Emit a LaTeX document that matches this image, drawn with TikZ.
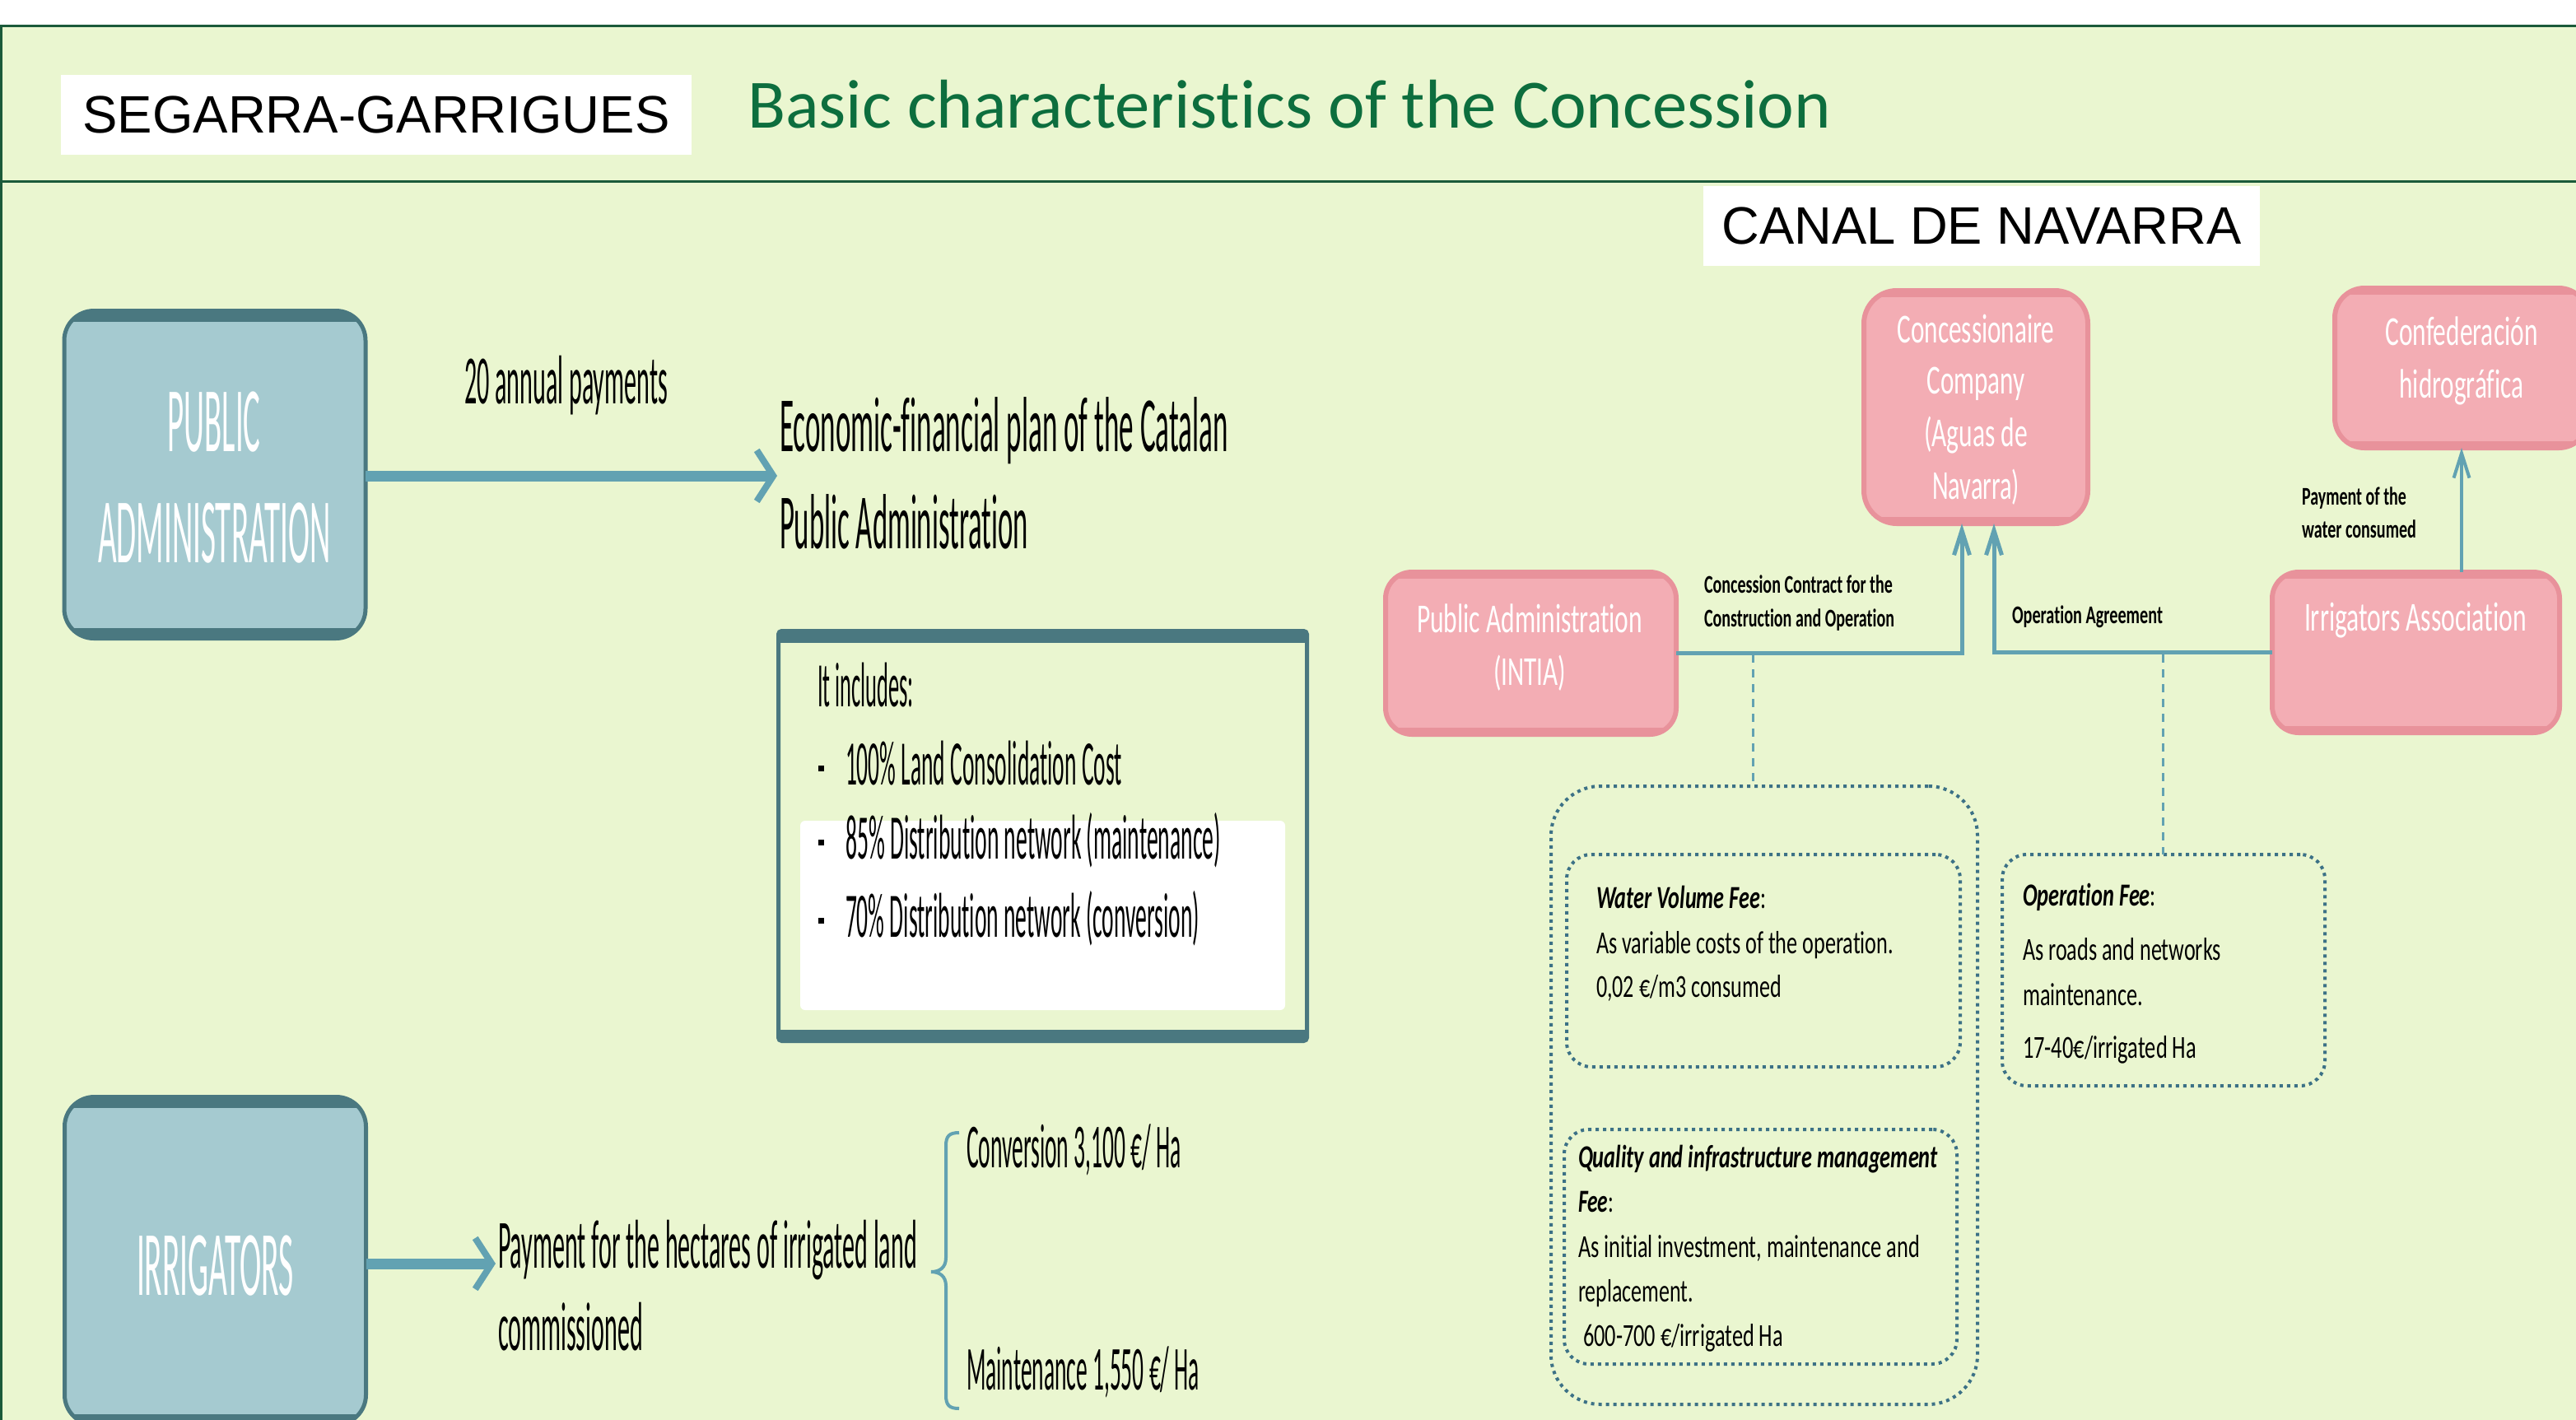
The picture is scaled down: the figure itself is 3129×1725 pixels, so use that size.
\documentclass[tikz,border=0pt]{standalone}
\usepackage{fontspec}
\usepackage{graphicx}
\setmainfont{Carlito}[Ligatures={NoCommon,NoContextual}]
\newfontfamily\arialf{Liberation Sans}
\usetikzlibrary{arrows.meta,calc}
\newlength\pxu \setlength\pxu{0.25pt}
\newcommand\fit[2]{\resizebox{#1\pxu}{\height}{#2}}
\newcommand\sqbullet{\rule[16.5\pxu]{7\pxu}{7\pxu}}
\newcommand\bandsof[4]{%
  \begin{scope}
    \clip[rounded corners=#2] (#1.north west) rectangle (#1.south east);
    \fill[#4] (#1.north west) rectangle ([yshift=-#3]#1.north east);
    \fill[#4] (#1.south west) rectangle ([yshift=#3]#1.south east);
  \end{scope}}
\definecolor{bg}{HTML}{EAF6D0}
\definecolor{framec}{HTML}{1B5A3A}
\definecolor{ttl}{HTML}{0D6E3E}
\definecolor{bfill}{HTML}{A5CAD0}
\definecolor{bdark}{HTML}{4A7880}
\definecolor{connc}{HTML}{62A2B2}
\definecolor{pfill}{HTML}{F3ADB4}
\definecolor{pdark}{HTML}{E8929B}
\definecolor{dotc}{HTML}{3C7186}
\begin{document}
\begin{tikzpicture}[x=0.25pt,y=-0.25pt,
  txt/.style={anchor=base west, inner sep=0pt, outer sep=0pt},
  ctxt/.style={anchor=base, inner sep=0pt, outer sep=0pt},
  bluebox/.style={draw=bdark, fill=bfill, line width=1.25pt, rounded corners=9pt, inner sep=0pt, outer sep=0pt},
  pinkbox/.style={draw=pdark, fill=pfill, line width=1.5pt, rounded corners=9pt, inner sep=0pt, outer sep=0pt},
  dotbox/.style={draw=dotc, line width=1pt, dash pattern=on 1pt off 1.25pt, inner sep=0pt, outer sep=0pt},
  labelbox/.style={fill=white, inner sep=0pt, outer sep=0pt, font=\arialf\fontsize{16pt}{19pt}\selectfont},
  bigarrow/.style={draw=connc, line width=3.25pt, -{Straight Barb[length=5pt,width=15.5pt,line width'=2pt]}},
  link/.style={draw=connc, line width=1.25pt},
  smallarrow/.style={-{Straight Barb[length=7.5pt,width=4.75pt]}},
  dashlink/.style={draw=connc, line width=0.75pt, dash pattern=on 2.5pt off 2pt},
  boxtxt/.style={ctxt, text=white, font=\fontsize{12.5pt}{16pt}\selectfont},
  lbl/.style={txt, font=\bfseries\fontsize{7.75pt}{9pt}\selectfont},
  fee/.style={txt, font=\fontsize{9.75pt}{12pt}\selectfont}]
\useasboundingbox (0,0) rectangle (3129,1725);
\clip (0,0) rectangle (3129,1725);
% background and frame
\fill[white] (0,0) rectangle (3129,31);
\fill[bg] (0,31) rectangle (3129,1725);
\draw[framec, line width=0.75pt] (0,31) -- (3129,31);
\draw[framec, line width=0.75pt] (0,220) -- (3129,220);
\draw[framec, line width=0.75pt] (1,31) -- (1,1725);
% header
\node[labelbox, minimum width=191.5pt, minimum height=24.25pt] (seg) at (457,139.5) {\fit{713}{SEGARRA-GARRIGUES}};
\node[txt, text=ttl, font=\fontsize{21pt}{25pt}\selectfont] (title) at (908,155) {\fit{1316}{Basic characteristics of the Concession}};
\node[labelbox, minimum width=169pt, minimum height=24.25pt] (canal) at (2407,274.5) {\fit{631}{CANAL DE NAVARRA}};

% ===== left part =====
\node[bluebox, minimum width=91.5pt, minimum height=99.5pt] (pubadm) at (261,576.5) {};
\bandsof{pubadm}{9pt}{3.25pt}{bdark}
\node[ctxt, text=white, font=\fontsize{28pt}{33pt}\selectfont] (pa1) at (260,548) {\fit{113}{PUBLIC}};
\node[ctxt, text=white, font=\fontsize{28pt}{33pt}\selectfont] (pa2) at (260.5,683) {\fit{283}{ADMINISTRATION}};

\node[bluebox, minimum width=91.5pt, minimum height=99.5pt] (irrig) at (261.5,1531.5) {};
\bandsof{irrig}{9pt}{3.25pt}{bdark}
\node[ctxt, text=white, font=\fontsize{28pt}{33pt}\selectfont] (irr1) at (261.5,1573) {\fit{191}{IRRIGATORS}};

\node[txt, font=\fontsize{21pt}{25pt}\selectfont] (ann) at (564,490) {\fit{247}{20 annual payments}};
\coordinate (econin) at (944,578);
\draw[bigarrow] (pubadm.east |- econin) -- (econin);
\node[txt, font=\fontsize{23.75pt}{28pt}\selectfont] (econ1) at (947,548) {\fit{545}{Economic-financial plan of the Catalan}};
\node[txt, font=\fontsize{23.75pt}{28pt}\selectfont] (econ2) at (947,666) {\fit{302}{Public Administration}};

% includes box
\node[draw=bdark, line width=1.25pt, rounded corners=1pt, minimum width=160.5pt, minimum height=124.5pt, inner sep=0pt, outer sep=0pt] (incbox) at (1266.5,1015.5) {};
\bandsof{incbox}{1pt}{3.5pt}{bdark}
\node[fill=white, rounded corners=1.5pt, minimum width=147.25pt, minimum height=57.5pt, inner sep=0pt] (incwhite) at (1266.5,1112) {};
\node[txt, font=\fontsize{19.25pt}{23pt}\selectfont] (inc0) at (993,858) {\fit{117}{It includes:}};
\node[ctxt] (b1) at (997,953) {\sqbullet};
\node[ctxt] (b2) at (997,1043) {\sqbullet};
\node[ctxt] (b3) at (997,1138) {\sqbullet};
\node[txt, font=\fontsize{19.25pt}{23pt}\selectfont] (inc1) at (1027,953) {\fit{336}{100\% Land Consolidation Cost}};
\node[txt, font=\fontsize{19.25pt}{23pt}\selectfont] (inc2) at (1027,1043) {\fit{456}{85\% Distribution network (maintenance)}};
\node[txt, font=\fontsize{19.25pt}{23pt}\selectfont] (inc3) at (1027,1138) {\fit{430}{70\% Distribution network (conversion)}};

% irrigators payment
\coordinate (payin) at (602,1535);
\draw[bigarrow] (irrig.east |- payin) -- (payin);
\node[txt, font=\fontsize{21pt}{25pt}\selectfont] (pay1) at (605,1540) {\fit{509}{Payment for the hectares of irrigated land}};
\node[txt, font=\fontsize{21pt}{25pt}\selectfont] (pay2) at (605,1640) {\fit{176}{commissioned}};
\draw[connc, line width=1pt] (1165,1376) .. controls (1153,1376) and (1149,1380) .. (1149,1392) -- (1149,1528) .. controls (1149,1540) and (1141,1545) .. (1131,1545) .. controls (1141,1545) and (1149,1550) .. (1149,1562) -- (1149,1695) .. controls (1149,1707) and (1153,1711) .. (1165,1711);
\node[txt, font=\fontsize{19pt}{23pt}\selectfont] (conv) at (1174,1418) {\fit{261}{Conversion 3,100 €/ Ha}};
\node[txt, font=\fontsize{19pt}{23pt}\selectfont] (maint) at (1174,1688) {\fit{283}{Maintenance 1,550 €/ Ha}};

% ===== right part =====
\node[pinkbox, rounded corners=10pt, minimum width=68pt, minimum height=70.75pt] (conc) at (2400,494.5) {};
\bandsof{conc}{10pt}{2pt}{pdark}
\node[boxtxt] (conc1) at (2400,416) {\fit{191}{Concessionaire}};
\node[boxtxt] (conc2) at (2400,478) {\fit{119}{Company}};
\node[boxtxt] (conc3) at (2400,542) {\fit{126}{(Aguas de}};
\node[boxtxt] (conc4) at (2400,606) {\fit{106}{Navarra)}};

\node[pinkbox, minimum width=77pt, minimum height=48.5pt] (conf) at (2990,447) {};
\bandsof{conf}{9pt}{2pt}{pdark}
\node[boxtxt] (conf1) at (2990,419) {\fit{185}{Confederación}};
\node[boxtxt] (conf2) at (2990,483) {\fit{151}{hidrográfica}};

\node[pinkbox, rounded corners=8pt, minimum width=88.25pt, minimum height=49.25pt] (pa) at (1859.5,793.5) {};
\bandsof{pa}{8pt}{2pt}{pdark}
\node[boxtxt] (pat1) at (1858,768) {\fit{274}{Public Administration}};
\node[boxtxt] (pat2) at (1858,832) {\fit{88}{(INTIA)}};

\node[pinkbox, rounded corners=8pt, minimum width=87.25pt, minimum height=48.75pt] (ia) at (2934.5,792.5) {};
\bandsof{ia}{8pt}{2pt}{pdark}
\node[boxtxt] (iat1) at (2934,766) {\fit{270}{Irrigators Association}};

% connectors
\draw[link, smallarrow] (pa.east) -| ([xshift=-4.25pt]conc.south);
\draw[link, smallarrow] (ia.west) -| ([xshift=5.5pt]conc.south);
\draw[draw=connc, line width=1pt, smallarrow] (ia.north -| conf.south) -- (conf.south);
\node[lbl] (lc1) at (2070,720) {\fit{229}{Concession Contract for the}};
\node[lbl] (lc2) at (2070,761) {\fit{231}{Construction and Operation}};
\node[lbl] (lop) at (2444,757) {\fit{183}{Operation Agreement}};
\node[lbl] (lw1) at (2796,613) {\fit{127}{Payment of the}};
\node[lbl] (lw2) at (2796,653) {\fit{139}{water consumed}};

% fee boxes
\node[dotbox, rounded corners=15pt, minimum width=129.5pt, minimum height=187.75pt] (outer) at (2143,1330.5) {};
\node[dotbox, rounded corners=7.5pt, minimum width=119.5pt, minimum height=64.5pt] (wvf) at (2142,1167) {};
\node[dotbox, rounded corners=7.5pt, minimum width=98pt, minimum height=70.25pt] (opfee) at (2628,1178.5) {};
\node[dotbox, rounded corners=7.5pt, minimum width=119.25pt, minimum height=71.25pt] (qual) at (2138.5,1514.5) {};
\coordinate (d1) at (2129,795);
\coordinate (d2) at (2627,795);
\draw[dashlink] (d1) -- (d1 |- outer.north);
\draw[dashlink] (d2) -- (d2 |- opfee.north);

\node[fee] (w1) at (1939,1103) {\fit{206}{\textbf{\textit{Water Volume Fee}}:}};
\node[fee] (w2) at (1939,1158) {\fit{361}{As variable costs of the operation.}};
\node[fee] (w3) at (1939,1211) {\fit{225}{0,02 €/m3 consumed}};

\node[fee] (o1) at (2457,1100) {\fit{162}{\textbf{\textit{Operation Fee}}:}};
\node[fee] (o2) at (2457,1166) {\fit{241}{As roads and networks}};
\node[fee] (o3) at (2457,1221) {\fit{146}{maintenance.}};
\node[fee] (o4) at (2457,1285) {\fit{211}{17-40€/irrigated Ha}};

\node[fee] (q1) at (1917,1418) {\fit{437}{\textbf{\textit{Quality and infrastructure management}}}};
\node[fee] (q2) at (1917,1472) {\fit{43}{\textbf{\textit{Fee}}:}};
\node[fee] (q3) at (1917,1527) {\fit{415}{As initial investment, maintenance and}};
\node[fee] (q4) at (1917,1581) {\fit{140}{replacement.}};
\node[fee] (q5) at (1923,1635) {\fit{243}{600-700 €/irrigated Ha}};
\end{tikzpicture}
\end{document}
